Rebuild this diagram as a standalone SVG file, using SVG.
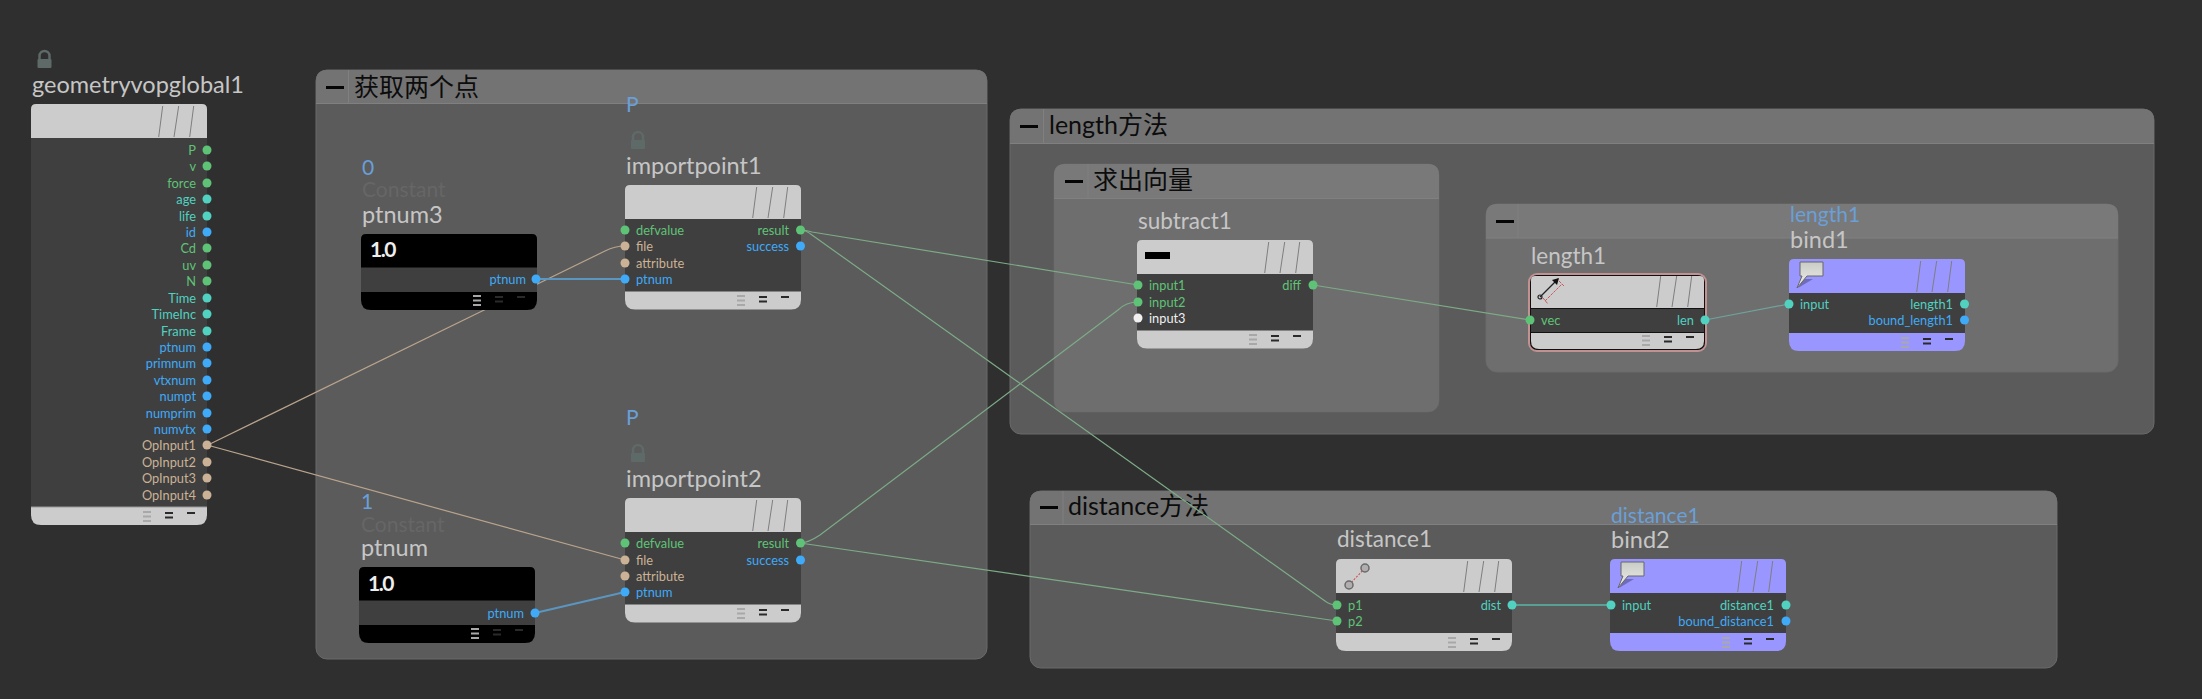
<svg xmlns="http://www.w3.org/2000/svg" width="2202" height="699" viewBox="0 0 2202 699">
<style>
text{font-family:Lato,"Noto Sans CJK SC",sans-serif}
.bg{fill:#2f2f2f}
.box{stroke:#6a6a6a;stroke-width:1}
.head{stroke:none}
.bt{font-size:25px;fill:#0c0c0c}
.minus{fill:#050505}
.div{stroke:#808080;stroke-width:1}
.t{font-size:23.500px;fill:#c6c6c6}
.t2{font-size:22.500px;fill:#c6c6c6}
.c{font-size:21px;fill:#666666}
.v{font-size:21px;fill:#6a9fd8}
.p{font-size:12.800px}
.r{text-anchor:end}
.g{fill:#5fc377}.tl{fill:#51d1c0}.b{fill:#3eaaf8}.n{fill:#cbb296}.w{fill:#f0f0f0}
.bl{fill:#3f3f3f}
.lg{fill:#cccccc}.pu{fill:#9a96ff}.bk{fill:#000}
.sl{stroke:#7e7e7e;stroke-width:1;fill:none}
.cn{fill:none;stroke-width:1.2}
.cg{stroke:#7dab87}.ct{stroke:#b9a48d}.cb{stroke:#5b96c0;stroke-width:1.800}.cc{stroke:#57b7a8;stroke-width:1.500}.cm{stroke:#6fa39c}
.i1{stroke:#a8a8a8;stroke-width:2}.i2{stroke:#2a2a2a;stroke-width:2}
</style>
<defs>
<path id="hd" d="M0,34V5Q0,0 5,0H171Q176,0 176,5V34Z"/>
<path id="ft" d="M0,0H176V8Q176,18 166,18H10Q0,18 0,8Z"/>
<g id="st"><path class="sl" d="M127.700,33L131.700,2M143,33L147.700,2M158.700,33L162.700,2"/></g>
<g id="fi"><path class="i1" d="M112,5h8M112,9.500h8M112,14h8"/><path class="i2" d="M134,6h8M134,10.500h8"/><path class="i2" d="M156,6h8"/></g>
<g id="lock"><path d="M-5,0V-4A5,5 0 0 1 5,-4V0" fill="none" stroke="#5e6a68" stroke-width="2.500"/><rect x="-7" y="-1" width="14" height="9" rx="1" fill="#5e6a68"/></g>
<linearGradient id="bub" x1="0" y1="0" x2="0" y2="1"><stop offset="0" stop-color="#c9cbc6"/><stop offset="1" stop-color="#f0f0ec"/></linearGradient>
<g id="bubble"><path d="M9,29L24,20L14,20Z" fill="#6f6cb8"/><path d="M11,3H34V17H18L8,29L13,17H11Z" fill="url(#bub)" stroke="#666" stroke-width="1"/></g>
</defs>
<rect class="bg" width="2202" height="699"/>

<g id="box-points">
<rect class="box" x="316" y="70" width="671" height="589" rx="11" fill="#5b5b5b"/>
<path class="head" d="M316,103V81Q316,70 327,70H976Q987,70 987,81V103Z" fill="#737373"/>
<path class="div" d="M316,103.500H987M348.500,70V103"/>
<rect class="minus" x="326" y="86" width="18" height="3"/>
<text class="bt" x="354" y="96">获取两个点</text>
</g>
<g id="box-length">
<rect class="box" x="1010" y="109" width="1144" height="325" rx="11" fill="#5b5b5b"/>
<path class="head" d="M1010,143V120Q1010,109 1021,109H2143Q2154,109 2154,120V143Z" fill="#737373"/>
<path class="div" d="M1010,143.500H2154M1043.500,109V143"/>
<rect class="minus" x="1020" y="125" width="18" height="3"/>
<text class="bt" x="1049" y="134">length方法</text>
</g>
<g id="box-vector">
<rect class="box" x="1054" y="164" width="385" height="248" rx="11" fill="#6e6e6e" stroke-opacity=".6"/>
<path class="head" d="M1054,198V175Q1054,164 1065,164H1428Q1439,164 1439,175V198Z" fill="#797979"/>
<path class="div" d="M1054,198.500H1439M1088,164V198"/>
<rect class="minus" x="1065" y="180" width="18" height="3"/>
<text class="bt" x="1093" y="189">求出向量</text>
</g>
<g id="box-unnamed">
<rect class="box" x="1486" y="204" width="632" height="168" rx="11" fill="#6e6e6e"/>
<path class="head" d="M1486,238V215Q1486,204 1497,204H2107Q2118,204 2118,215V238Z" fill="#797979"/>
<path class="div" d="M1486,238H2118M1518,204V238"/>
<rect class="minus" x="1496" y="220" width="18" height="3"/>
</g>
<g id="box-distance">
<rect class="box" x="1030" y="491" width="1027" height="177" rx="11" fill="#5b5b5b"/>
<path class="head" d="M1030,524V502Q1030,491 1041,491H2046Q2057,491 2057,502V524Z" fill="#737373"/>
<path class="div" d="M1030,524.500H2057M1063,491V524"/>
<rect class="minus" x="1040" y="506" width="18" height="3"/>
<text class="bt" x="1068" y="515">distance方法</text>
</g>

<g id="connectors">
<path class="cn ct" d="M207,445L212,443L605,251Q615,246 625,246"/>
<path class="cn ct" d="M207,445L625,560"/>
<path class="cn cb" d="M536,279H625"/>
<path class="cn cb" d="M535,613L625,592"/>
<path class="cn cg" d="M800,230Q806,230 812,232L1138,285"/>
<path class="cn cg" d="M800,230Q806,230 812,235L1325,601Q1330,605 1337,605"/>
<path class="cn cg" d="M800,543Q808,543 820,535L1118,310Q1126,302 1138,302"/>
<path class="cn cg" d="M800,543L1337,621"/>
<path class="cn cg" d="M1313,285L1530,320"/>
<path class="cn cm" d="M1705,320L1789,304"/>
<path class="cn cc" d="M1512,605H1611"/>
</g>

<g id="geometryvopglobal1" transform="translate(31,104)">
<use href="#lock" x="13.500" y="-44"/>
<text class="t" x="1" y="-11">geometryvopglobal1</text>
<rect class="bl" y="34" width="176" height="369"/>
<use href="#hd" class="lg"/><use href="#st"/>
<use href="#ft" class="lg" y="403"/><path d="M0,403H176" stroke="#9a9a9a" stroke-width="1"/><use href="#fi" y="403"/>
<g class="p">
<text class="r g" x="165" y="51">P</text><circle class="g" cx="176" cy="46" r="4.500"/>
<text class="r g" x="165" y="67">v</text><circle class="g" cx="176" cy="62" r="4.500"/>
<text class="r g" x="165" y="84">force</text><circle class="g" cx="176" cy="79" r="4.500"/>
<text class="r tl" x="165" y="100">age</text><circle class="tl" cx="176" cy="95" r="4.500"/>
<text class="r tl" x="165" y="117">life</text><circle class="tl" cx="176" cy="112" r="4.500"/>
<text class="r b" x="165" y="133">id</text><circle class="b" cx="176" cy="128" r="4.500"/>
<text class="r g" x="165" y="149">Cd</text><circle class="g" cx="176" cy="144" r="4.500"/>
<text class="r g" x="165" y="166">uv</text><circle class="g" cx="176" cy="161" r="4.500"/>
<text class="r g" x="165" y="182">N</text><circle class="g" cx="176" cy="177" r="4.500"/>
<text class="r tl" x="165" y="199">Time</text><circle class="tl" cx="176" cy="194" r="4.500"/>
<text class="r tl" x="165" y="215">TimeInc</text><circle class="tl" cx="176" cy="210" r="4.500"/>
<text class="r tl" x="165" y="232">Frame</text><circle class="tl" cx="176" cy="227" r="4.500"/>
<text class="r b" x="165" y="248">ptnum</text><circle class="b" cx="176" cy="243" r="4.500"/>
<text class="r b" x="165" y="264">primnum</text><circle class="b" cx="176" cy="259" r="4.500"/>
<text class="r b" x="165" y="281">vtxnum</text><circle class="b" cx="176" cy="276" r="4.500"/>
<text class="r b" x="165" y="297">numpt</text><circle class="b" cx="176" cy="292" r="4.500"/>
<text class="r b" x="165" y="314">numprim</text><circle class="b" cx="176" cy="309" r="4.500"/>
<text class="r b" x="165" y="330">numvtx</text><circle class="b" cx="176" cy="325" r="4.500"/>
<text class="r n" x="165" y="346">OpInput1</text><circle class="n" cx="176" cy="341" r="4.500"/>
<text class="r n" x="165" y="363">OpInput2</text><circle class="n" cx="176" cy="358" r="4.500"/>
<text class="r n" x="165" y="379">OpInput3</text><circle class="n" cx="176" cy="374" r="4.500"/>
<text class="r n" x="165" y="396">OpInput4</text><circle class="n" cx="176" cy="391" r="4.500"/>
</g>
</g>

<g id="ptnum3" transform="translate(361,234)">
<text class="v" x="1" y="-59">0</text>
<text class="c" x="1" y="-37">Constant</text>
<text class="t" x="1" y="-11">ptnum3</text>
<use href="#hd" class="bk"/><rect class="bl" y="33.500" width="176" height="25"/>
<use href="#ft" class="bk" y="58"/><use href="#fi" y="57"/>
<text x="9" y="23" font-size="21" font-weight="700" fill="#eee" letter-spacing="-1.500">1.0</text>
<text class="p r b" x="165" y="50">ptnum</text><circle class="b" cx="175" cy="45" r="4.500"/>
</g>

<g id="ptnum" transform="translate(359,567)">
<text class="v" x="2" y="-58">1</text>
<text class="c" x="2" y="-35">Constant</text>
<text class="t" x="2" y="-11">ptnum</text>
<use href="#hd" class="bk"/><rect class="bl" y="33.500" width="176" height="25"/>
<use href="#ft" class="bk" y="58"/><use href="#fi" y="57"/>
<text x="9" y="24" font-size="21" font-weight="700" fill="#eee" letter-spacing="-1.500">1.0</text>
<text class="p r b" x="165" y="51">ptnum</text><circle class="b" cx="176" cy="46" r="4.500"/>
</g>

<g id="importpoint1" transform="translate(625,185)">
<text class="v" x="1" y="-73">P</text>
<use href="#lock" x="13" y="-44"/>
<text class="t" x="1" y="-11">importpoint1</text>
<rect class="bl" y="33" width="176" height="75"/>
<use href="#hd" class="lg"/><use href="#st"/>
<use href="#ft" class="lg" y="106.500"/><use href="#fi" y="106"/>
<g class="p">
<circle class="g" cx="0" cy="45" r="4.500"/><text class="g" x="11" y="50">defvalue</text>
<circle class="n" cx="0" cy="61" r="4.500"/><text class="n" x="11" y="66">file</text>
<circle class="n" cx="0" cy="78" r="4.500"/><text class="n" x="11" y="83">attribute</text>
<circle class="b" cx="0" cy="94" r="4.500"/><text class="b" x="11" y="99">ptnum</text>
<text class="r g" x="164" y="50">result</text><circle class="g" cx="175.500" cy="45" r="4.500"/>
<text class="r b" x="164" y="66">success</text><circle class="b" cx="175.500" cy="61" r="4.500"/>
</g>
</g>

<g id="importpoint2" transform="translate(625,498)">
<text class="v" x="1" y="-73">P</text>
<use href="#lock" x="13" y="-44"/>
<text class="t" x="1" y="-11">importpoint2</text>
<rect class="bl" y="33" width="176" height="75"/>
<use href="#hd" class="lg"/><use href="#st"/>
<use href="#ft" class="lg" y="106.500"/><use href="#fi" y="106"/>
<g class="p">
<circle class="g" cx="0" cy="45" r="4.500"/><text class="g" x="11" y="50">defvalue</text>
<circle class="n" cx="0" cy="62" r="4.500"/><text class="n" x="11" y="67">file</text>
<circle class="n" cx="0" cy="78" r="4.500"/><text class="n" x="11" y="83">attribute</text>
<circle class="b" cx="0" cy="94" r="4.500"/><text class="b" x="11" y="99">ptnum</text>
<text class="r g" x="164" y="50">result</text><circle class="g" cx="175.500" cy="45" r="4.500"/>
<text class="r b" x="164" y="67">success</text><circle class="b" cx="175.500" cy="62" r="4.500"/>
</g>
</g>

<g id="subtract1" transform="translate(1137,240)">
<text class="t2" x="1" y="-11">subtract1</text>
<rect class="bl" y="33" width="176" height="58"/>
<use href="#hd" class="lg"/><use href="#st"/>
<rect x="8" y="12" width="25" height="7" fill="#000"/>
<use href="#ft" class="lg" y="90.500"/><use href="#fi" y="90"/>
<g class="p">
<circle class="g" cx="1" cy="45" r="4.500"/><text class="g" x="12" y="50">input1</text>
<circle class="g" cx="1" cy="62" r="4.500"/><text class="g" x="12" y="67">input2</text>
<circle class="w" cx="1" cy="78" r="4.500"/><text class="w" x="12" y="83">input3</text>
<text class="r g" x="164" y="50">diff</text><circle class="g" cx="176" cy="45" r="4.500"/>
</g>
</g>

<g id="length1" transform="translate(1530,275)">
<text class="t2" x="1" y="-11">length1</text>
<rect x="-2" y="-2" width="179" height="79" rx="9" fill="#c29292"/>
<rect x="0" y="0" width="175" height="75" rx="7" fill="#111"/>
<path class="lg" d="M1,33V5Q1,1 5,1H170Q174,1 174,5V33Z"/>
<rect class="bl" x="1" y="34" width="173" height="23"/>
<path class="lg" d="M1,58H174V66Q174,74 166,74H9Q1,74 1,66Z"/>
<use href="#st" x="-1" y="-1"/>
<use href="#fi" y="56"/>
<path d="M10,22L28,4" stroke="#222" stroke-width="1.200"/><path d="M29,3L22,5L27,10Z" fill="#111"/><circle cx="10" cy="22" r="2" fill="none" stroke="#222" stroke-width="1.200"/>
<path d="M15,26L32,9M13,23L18,29M29,6L34,11" stroke="#c85a5a" stroke-width="1" fill="none" stroke-dasharray="3 1"/>
<g class="p">
<circle class="g" cx="0" cy="45" r="4.500"/><text class="g" x="11" y="50">vec</text>
<text class="r tl" x="164" y="50">len</text><circle class="tl" cx="175" cy="45" r="4.500"/>
</g>
</g>

<g id="bind1" transform="translate(1789,259)">
<text class="v" x="1" y="-37">length1</text>
<text class="t" x="1" y="-11">bind1</text>
<rect class="bl" y="33" width="176" height="42"/>
<use href="#hd" class="pu"/><use href="#st"/>
<use href="#bubble"/>
<use href="#ft" class="pu" y="74"/><use href="#fi" y="74"/>
<g class="p">
<circle class="tl" cx="0" cy="45" r="4.500"/><text class="tl" x="11" y="50">input</text>
<text class="r tl" x="164" y="50">length1</text><circle class="tl" cx="175.500" cy="45" r="4.500"/>
<text class="r b" x="164" y="66">bound_length1</text><circle class="b" cx="175.500" cy="61" r="4.500"/>
</g>
</g>

<g id="distance1" transform="translate(1336,559)">
<text class="t2" x="1" y="-12">distance1</text>
<rect class="bl" y="33" width="176" height="42"/>
<use href="#hd" class="lg"/><use href="#st"/>
<path d="M13,26L29,9" stroke="#c85a5a" stroke-width="1.200" stroke-dasharray="2 1.500"/>
<circle cx="13" cy="26" r="4" fill="#b0aeae" stroke="#6a6a6a" stroke-width="1.500"/><circle cx="29" cy="9" r="4" fill="#b0aeae" stroke="#6a6a6a" stroke-width="1.500"/>
<use href="#ft" class="lg" y="74"/><use href="#fi" y="74"/>
<g class="p">
<circle class="g" cx="1" cy="46" r="4.500"/><text class="g" x="12" y="51">p1</text>
<circle class="g" cx="1" cy="62" r="4.500"/><text class="g" x="12" y="67">p2</text>
<text class="r tl" x="165" y="51">dist</text><circle class="tl" cx="176" cy="46" r="4.500"/>
</g>
</g>

<g id="bind2" transform="translate(1610,559)">
<text class="v" x="1" y="-36">distance1</text>
<text class="t" x="1" y="-11">bind2</text>
<rect class="bl" y="33" width="176" height="42"/>
<use href="#hd" class="pu"/><use href="#st"/>
<use href="#bubble"/>
<use href="#ft" class="pu" y="74"/><use href="#fi" y="74"/>
<g class="p">
<circle class="tl" cx="1" cy="46" r="4.500"/><text class="tl" x="12" y="51">input</text>
<text class="r tl" x="164" y="51">distance1</text><circle class="tl" cx="176" cy="46" r="4.500"/>
<text class="r b" x="164" y="67">bound_distance1</text><circle class="b" cx="176" cy="62" r="4.500"/>
</g>
</g>
</svg>
